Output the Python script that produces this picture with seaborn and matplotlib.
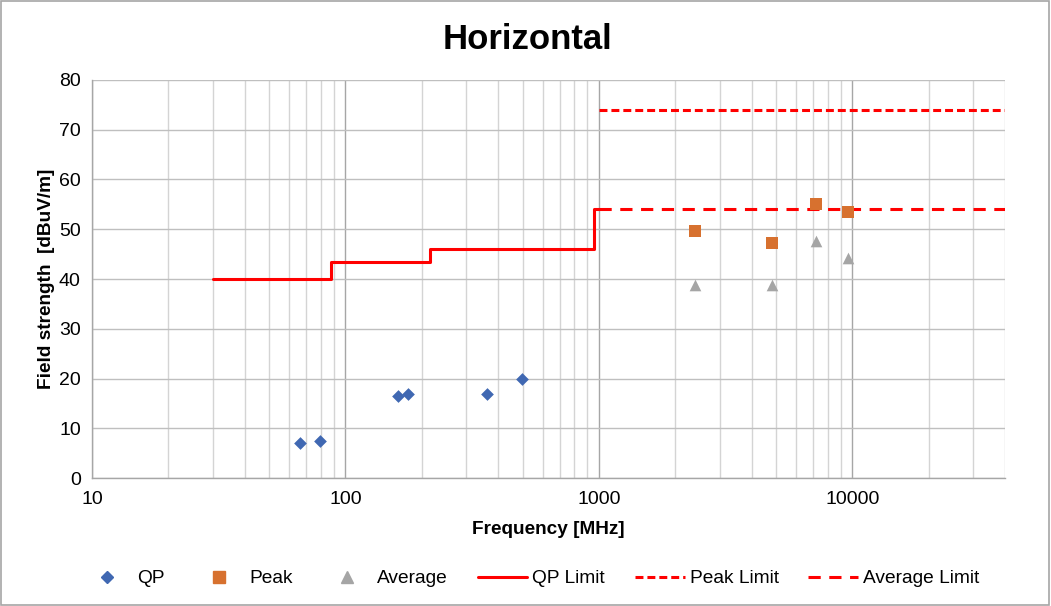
import numpy as np
import pandas as pd
import seaborn as sns
import matplotlib.pyplot as plt
from matplotlib.lines import Line2D
from matplotlib.patches import Rectangle
from matplotlib.ticker import LogLocator, NullFormatter, FixedLocator

# measured points
qp_freq = [66, 79, 161, 176, 361, 496]
qp_level = [7.1, 7.4, 16.4, 16.9, 16.9, 19.9]

peak_freq = [2390, 4800, 7200, 9600]
peak_level = [49.6, 47.3, 55.1, 53.4]

avg_freq = [2390, 4800, 7200, 9600]
avg_level = [38.8, 38.8, 47.6, 44.3]

# limit lines (steps)
qp_lim_freq = [30, 88, 216, 960, 1000]
qp_lim_level = [40, 43.5, 46, 54, 54]

peak_lim_freq = [1000, 40000]
peak_lim_level = [74, 74]

avg_lim_freq = [1000, 40000]
avg_lim_level = [54, 54]

blue = "#4068B2"
orange = "#D7712F"
grey = "#A5A5A5"
red = "#FF0000"
peak_dash = (0, (2.6, 1.3))
avg_dash = (0, (4, 2.8))

sns.set_style("white")
plt.rcParams["font.family"] = ["Liberation Sans", "DejaVu Sans"]
plt.rcParams["text.color"] = "black"
plt.rcParams["axes.labelcolor"] = "black"
plt.rcParams["xtick.color"] = "black"
plt.rcParams["ytick.color"] = "black"

fig, ax = plt.subplots(figsize=(10.51, 6.06), dpi=100)
fig.subplots_adjust(left=0.0875, right=0.9563, top=0.868, bottom=0.2112)

sns.lineplot(x=qp_lim_freq, y=qp_lim_level, ax=ax, color=red, linewidth=2.2,
             drawstyle="steps-post", sort=False, zorder=3)
sns.lineplot(x=peak_lim_freq, y=peak_lim_level, ax=ax, color=red, linewidth=2.2,
             sort=False, zorder=3, linestyle=peak_dash)
sns.lineplot(x=avg_lim_freq, y=avg_lim_level, ax=ax, color=red, linewidth=2.2,
             sort=False, zorder=3, linestyle=avg_dash)

sns.scatterplot(x=qp_freq, y=qp_level, ax=ax, color=blue, marker="D", s=42,
                linewidth=0, zorder=4)
sns.scatterplot(x=peak_freq, y=peak_level, ax=ax, color=orange, marker="s", s=85,
                linewidth=0, zorder=4)
sns.scatterplot(x=avg_freq, y=avg_level, ax=ax, color=grey, marker="^", s=70,
                linewidth=0, zorder=4)

ax.set_xscale("log")
ax.set_xlim(10, 40000)
ax.set_ylim(0, 80)
ax.set_yticks(range(0, 81, 10))
ax.xaxis.set_major_locator(FixedLocator([10, 100, 1000, 10000]))
ax.set_xticklabels(["10", "100", "1000", "10000"])
ax.xaxis.set_minor_locator(LogLocator(base=10, subs=np.arange(2, 10)))
ax.xaxis.set_minor_formatter(NullFormatter())

ax.grid(True, which="major", axis="x", color="#A6A6A6", linewidth=1.0)
ax.grid(True, which="minor", axis="x", color="#D4D4D4", linewidth=1.0)
ax.grid(True, which="major", axis="y", color="#BFBFBF", linewidth=1.0)
ax.set_axisbelow(True)

for side in ["top", "right"]:
    ax.spines[side].set_visible(False)
for side in ["left", "bottom"]:
    ax.spines[side].set_color("#A6A6A6")
    ax.spines[side].set_linewidth(1.0)

ax.tick_params(axis="y", which="major", length=5, color="#A6A6A6", labelsize=14, pad=3)
ax.tick_params(axis="x", which="major", length=5, color="#A6A6A6", labelsize=14, pad=4)
ax.tick_params(axis="x", which="minor", length=0)

ax.set_xlabel("Frequency [MHz]", fontsize=13.7, fontweight="bold", labelpad=10)
ax.set_ylabel("Field strength  [dBuV/m]", fontsize=13.7, fontweight="bold", labelpad=3)

fig.text(0.502, 0.934, "Horizontal", ha="center", va="center",
         fontsize=25, fontweight="bold")

handles = [
    Line2D([], [], color=blue, marker="D", linestyle="none", markersize=6.5),
    Line2D([], [], color=orange, marker="s", linestyle="none", markersize=8.5),
    Line2D([], [], color=grey, marker="^", linestyle="none", markersize=8.5),
    Line2D([], [], color=red, linewidth=2.2),
    Line2D([], [], color=red, linewidth=2.2, linestyle=peak_dash),
    Line2D([], [], color=red, linewidth=2.2, linestyle=avg_dash),
]
labels = ["QP", "Peak", "Average", "QP Limit", "Peak Limit", "Average Limit"]
fig.legend(handles, labels, loc="center", bbox_to_anchor=(0.505, 0.045), ncol=6,
           frameon=False, fontsize=13.8, handlelength=2.6, handletextpad=0.26,
           columnspacing=1.55)

fig.patches.append(Rectangle((0.001, 0.001), 0.997, 0.997, transform=fig.transFigure,
                             fill=False, edgecolor="#A6A6A6", linewidth=1.2))

fig.savefig("out.png", dpi=100)
